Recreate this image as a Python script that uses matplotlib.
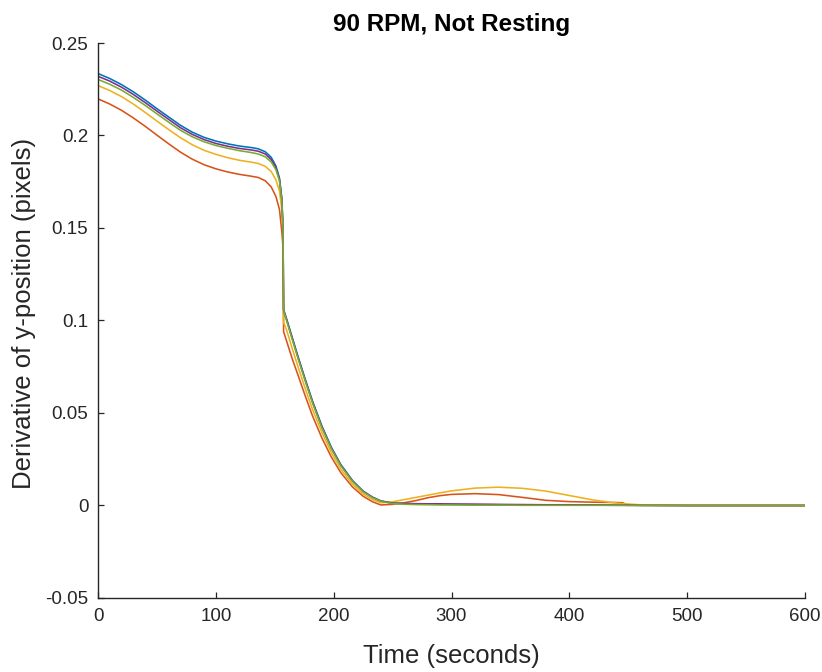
import matplotlib
matplotlib.use("Agg")
import matplotlib.pyplot as plt

plt.rcParams['font.family'] = ['Liberation Sans', 'DejaVu Sans']
plt.rcParams['axes.unicode_minus'] = False

# Shared time base (seconds)
t = [0, 10, 20, 30, 40, 50, 60, 70, 80, 90, 100, 110, 120, 130, 136, 142, 147,
     151, 154, 156, 157, 157.5, 160, 165, 170, 176, 182, 190, 198, 206, 216,
     225, 233, 240, 250, 260, 270, 280, 290, 300, 320, 340, 360, 380, 400, 420,
     440, 445, 450, 460, 500, 550, 600]

trial_1 = [.2335, .2308, .2275, .2236, .2192, .2145, .2100, .2055, .2018, .1990,
           .1970, .1955, .1943, .1935, .1928, .1912, .1882, .1835, .1770, .1660,
           .1500, .1060, .1010, .0905, .0800, .0680, .0565, .0430, .0315, .0222,
           .0135, .0078, .0045, .0025, .0013, .0010, .0009, .0008, .0007, .0006,
           .0005, .0004, .0003, .0003, .0002, .0002, .0001, .0001, .0001, .0001,
           .0000, .0000, .0000]

trial_2 = [.2198, .2170, .2136, .2095, .2050, .2002, .1955, .1910, .1872, .1842,
           .1820, .1803, .1790, .1780, .1773, .1755, .1722, .1670, .1600, .1480,
           .1400, .0940, .0890, .0790, .0700, .0590, .0485, .0365, .0262, .0178,
           .0100, .0050, .0020, .0003, .0006, .0015, .0027, .0042, .0053, .0060,
           .0064, .0059, .0044, .0028, .0021, .0018, .0016, .0015, .0003, .0001,
           .0000, .0000, .0000]

trial_3 = [.2270, .2243, .2210, .2170, .2125, .2078, .2032, .1988, .1950, .1920,
           .1898, .1880, .1866, .1856, .1849, .1833, .1805, .1760, .1700, .1600,
           .1480, .0990, .0950, .0845, .0745, .0630, .0520, .0395, .0285, .0196,
           .0115, .0062, .0031, .0015, .0020, .0032, .0044, .0056, .0068, .0079,
           .0094, .0099, .0093, .0078, .0054, .0030, .0013, .0010, .0008, .0004,
           .0001, .0000, .0000]

trial_4 = [.2320, .2294, .2261, .2222, .2178, .2132, .2087, .2042, .2006, .1978,
           .1957, .1942, .1930, .1922, .1915, .1900, .1870, .1825, .1762, .1655,
           .1500, .1055, .1005, .0900, .0795, .0675, .0560, .0425, .0311, .0218,
           .0132, .0076, .0044, .0024, .0013, .0011, .0010, .0009, .0009, .0008,
           .0007, .0006, .0005, .0004, .0004, .0003, .0002, .0002, .0002, .0001,
           .0000, .0000, .0000]

trial_5 = [.2303, .2277, .2245, .2206, .2163, .2117, .2072, .2028, .1993, .1966,
           .1946, .1931, .1918, .1908, .1900, .1885, .1857, .1815, .1755, .1650,
           .1500, .1055, .1000, .0895, .0790, .0670, .0555, .0420, .0307, .0215,
           .0130, .0074, .0042, .0023, .0010, .0007, .0005, .0004, .0003, .0003,
           .0002, .0002, .0001, .0001, .0001, .0001, .0001, .0001, .0000, .0000,
           .0000, .0000, .0000]

series = [trial_1, trial_2, trial_3, trial_4, trial_5]
colors = ['#0072BD', '#D95319', '#EDB120', '#7E2F8E', '#77AC30']

x_ticks = [0, 100, 200, 300, 400, 500, 600]
y_ticks = [-0.05, 0, 0.05, 0.1, 0.15, 0.2, 0.25]
y_tick_labels = ['-0.05', '0', '0.05', '0.1', '0.15', '0.2', '0.25']

fig = plt.figure(figsize=(8.22, 6.72), dpi=100)
ax = fig.add_axes([98 / 822, 1 - 598 / 672, (805 - 98) / 822, (598 - 43) / 672])

for ys, c in zip(series, colors):
    ax.plot(t, ys, color=c, lw=1.15)

ax.set_xlim(0, 600)
ax.set_ylim(-0.05, 0.25)
ax.set_xticks(x_ticks)
ax.set_xticklabels([str(v) for v in x_ticks])
ax.set_yticks(y_ticks)
ax.set_yticklabels(y_tick_labels)

dark = '#262626'
for side in ('top', 'right'):
    ax.spines[side].set_visible(False)
for side in ('left', 'bottom'):
    ax.spines[side].set_color(dark)
    ax.spines[side].set_linewidth(1.0)
ax.tick_params(direction='in', length=4, width=0.9, colors=dark,
               labelsize=13.5, pad=7)

ax.set_xlabel('Time (seconds)', fontsize=18.5, color=dark, labelpad=14)
ax.set_ylabel('Derivative of y-position (pixels)', fontsize=18.5, color=dark)
ax.yaxis.set_label_coords(-0.088, 0.512)
ax.set_title('90 RPM, Not Resting', fontsize=17.5, fontweight='bold',
             color='black', pad=9)

fig.savefig('out.png', dpi=100)
